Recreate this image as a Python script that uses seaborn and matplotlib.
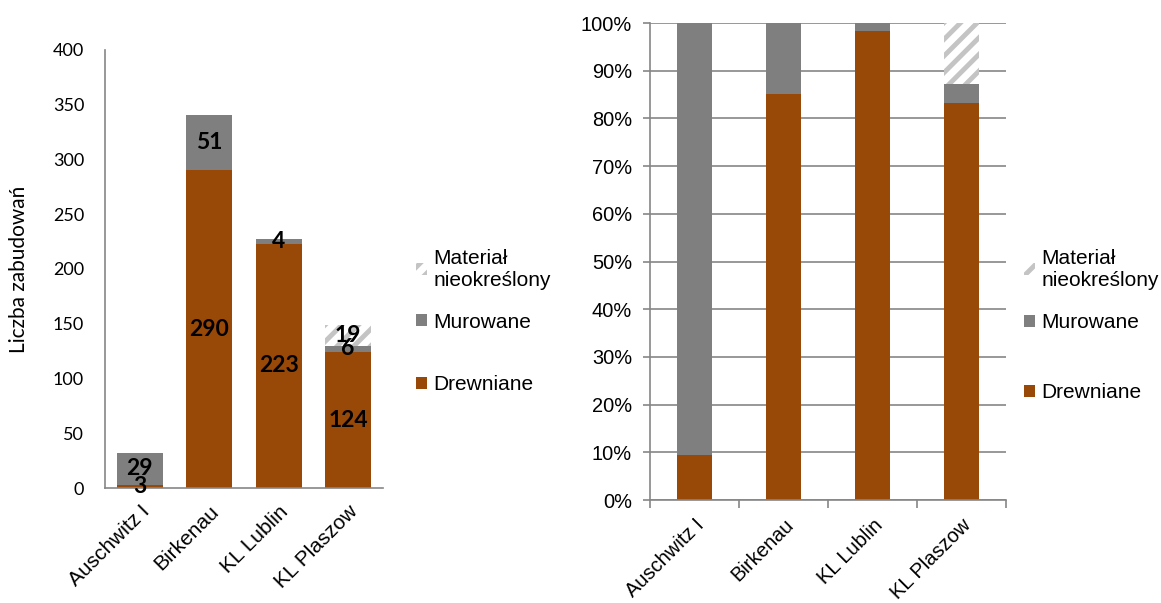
import pandas as pd
import matplotlib
matplotlib.use('Agg')
import matplotlib.pyplot as plt
import seaborn as sns
from matplotlib.patches import Patch
from matplotlib.ticker import PercentFormatter, MultipleLocator, FixedLocator

# dane
obozy = ['Auschwitz I', 'Birkenau', 'KL Lublin', 'KL Plaszow']
drewniane = [3, 290, 223, 124]
murowane = [29, 51, 4, 6]
nieokreslony = [0, 0, 0, 19]

kolor_drewno = '#984807'
kolor_mur = '#7f7f7f'
kolor_hatch = '#c4c4c4'
kolor_osi = '#868686'

sns.set_theme(style='white')
plt.rcParams['font.family'] = ['Liberation Sans', 'DejaVu Sans']
plt.rcParams['text.color'] = 'black'
plt.rcParams['axes.labelcolor'] = 'black'
plt.rcParams['hatch.linewidth'] = 3.5
plt.rcParams['hatch.color'] = kolor_hatch

df = pd.DataFrame({'oboz': obozy, 'drew': drewniane, 'mur': murowane, 'nieokr': nieokreslony})
df['mur_cum'] = df['drew'] + df['mur']
df['total'] = df['mur_cum'] + df['nieokr']

pct = pd.DataFrame({'oboz': obozy})
pct['drew'] = df['drew'] / df['total'] * 100
pct['mur_cum'] = df['mur_cum'] / df['total'] * 100
pct['total'] = df['total'] / df['total'] * 100


def stacked(ax, d, width):
    common = dict(data=d, x='oboz', order=obozy, saturation=1, width=width,
                  errorbar=None, linewidth=0, ax=ax)
    sns.barplot(y='total', color='white', edgecolor=kolor_hatch, hatch='//', **common)
    sns.barplot(y='mur_cum', color=kolor_mur, **common)
    sns.barplot(y='drew', color=kolor_drewno, **common)
    ax.set_xlim(-0.5, 3.5)
    ax.set_xlabel('')
    for s in ['top', 'right']:
        ax.spines[s].set_visible(False)
    for s in ['left', 'bottom']:
        ax.spines[s].set_color(kolor_osi)
        ax.spines[s].set_linewidth(1.2)
    plt.setp(ax.get_xticklabels(), rotation=45, ha='right', rotation_mode='anchor')


fig = plt.figure(figsize=(11.61, 6.03), dpi=100)
ax1 = fig.add_axes([0.0904, 0.1907, 0.2394, 0.7264])
ax2 = fig.add_axes([0.560, 0.1708, 0.3066, 0.791])

# lewy wykres - liczby
stacked(ax1, df, 0.66)
ax1.set_ylim(0, 400)
ax1.yaxis.set_major_locator(MultipleLocator(50))
ax1.tick_params(axis='y', length=0, pad=15, labelsize=13, colors='black')
ax1.tick_params(axis='x', length=0, pad=10, labelsize=15, colors='black')
for t in ax1.get_yticklabels():
    t.set_family('Lato')
ax1.set_ylabel('Liczba zabudowań', fontsize=15, family='Lato', labelpad=17)

for i in range(len(obozy)):
    dol = 0
    for v in [drewniane[i], murowane[i], nieokreslony[i]]:
        if v > 0:
            ax1.text(i, dol + v / 2, str(v), ha='center', va='center',
                     fontsize=16.5, fontweight='bold', family='Lato', color='black')
        dol += v

# prawy wykres - procenty
stacked(ax2, pct, 0.39)
ax2.set_ylim(0, 100)
ax2.set_ylabel('')
ax2.yaxis.set_major_locator(MultipleLocator(10))
ax2.yaxis.set_major_formatter(PercentFormatter(decimals=0))
ax2.yaxis.grid(True, color=kolor_osi, linewidth=1.2)
ax2.set_axisbelow(True)
ax2.tick_params(axis='y', left=True, length=5, width=1.2, color=kolor_osi,
                pad=8, labelsize=14.4, colors='black')
ax2.tick_params(axis='x', which='major', length=0, pad=11, labelsize=14.5, colors='black')
ax2.xaxis.set_minor_locator(FixedLocator([-0.5, 0.5, 1.5, 2.5, 3.5]))
ax2.tick_params(axis='x', which='minor', bottom=True, length=6, width=1.2, color=kolor_osi)
plt.setp(ax2.get_xticklabels(), rotation=45, ha='right', rotation_mode='anchor')

# legendy - osobny wpis dla kazdej serii, jak w Excelu
uchwyty = [Patch(facecolor='white', edgecolor=kolor_hatch, hatch='//', linewidth=0),
           Patch(facecolor=kolor_mur, linewidth=0),
           Patch(facecolor=kolor_drewno, linewidth=0)]
etykiety = ['Materiał\nnieokreślony', 'Murowane', 'Drewniane']
pozycje = {406: [269, 322, 385], 1014: [269, 323, 393]}
for x, ys in pozycje.items():
    for h, lab, y in zip(uchwyty, etykiety, ys):
        fig.legend([h], [lab], loc='center left',
                   bbox_to_anchor=(x / 1161, 1 - y / 603), frameon=False,
                   fontsize=15, handlelength=0.5, handleheight=0.5,
                   handletextpad=0.3, borderpad=0, labelcolor='black')

fig.savefig('out.png', dpi=100)
